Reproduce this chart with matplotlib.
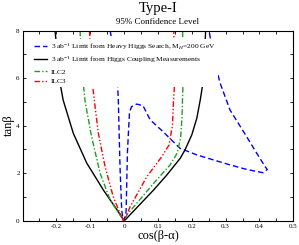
import matplotlib
matplotlib.use("Agg")
from matplotlib import pyplot as plt
from matplotlib.ticker import FixedLocator, MultipleLocator

plt.rcParams['font.family'] = ['Liberation Serif', 'DejaVu Serif']
plt.rcParams['mathtext.fontset'] = 'custom'
plt.rcParams['mathtext.rm'] = 'Liberation Serif'
plt.rcParams['mathtext.it'] = 'Liberation Serif:italic'

# heavy Higgs search limit (blue dashed)
heavy_x = [-0.041, -0.027, -0.019, -0.017, -0.012, -0.007, -0.003, 0.000, 0.006, 0.010,
           0.016, 0.022, 0.037, 0.056, 0.077, 0.115, 0.165, 0.215, 0.264, 0.313,
           0.362, 0.411, 0.423, 0.417, 0.392, 0.362, 0.313, 0.284, 0.266, 0.251]
heavy_y = [8.0, 6.77, 5.71, 5.08, 2.27, 0.46, 0.03, 0.02, 0.38, 2.91,
           4.55, 4.80, 4.91, 4.84, 4.25, 3.75, 3.05, 2.77, 2.56, 2.35,
           2.16, 2.02, 2.16, 2.27, 2.84, 3.54, 4.66, 5.78, 6.77, 8.0]

# Higgs coupling measurements (black)
coup_x = [-0.204, -0.195, -0.188, -0.180, -0.150, -0.110, -0.061, -0.017, -0.001,
          0.003, 0.087, 0.126, 0.166, 0.180, 0.200, 0.215, 0.225, 0.232, 0.237, 0.241]
coup_y = [8.0, 6.77, 5.71, 5.08, 3.68, 2.42, 1.29, 0.38, 0.03,
          0.03, 1.29, 1.92, 2.63, 2.98, 3.61, 4.32, 5.08, 5.71, 6.77, 8.0]

# ILC2 (green dash-dot)
ilc2_x = [-0.130, -0.126, -0.120, -0.115, -0.096, -0.071, -0.041, -0.012, -0.002,
          0.001, 0.008, 0.087, 0.136, 0.157, 0.167, 0.171, 0.174, 0.173]
ilc2_y = [8.0, 6.77, 5.71, 5.01, 3.54, 2.01, 0.87, 0.24, 0.03,
          0.03, 0.24, 1.57, 2.35, 2.85, 3.48, 4.32, 5.71, 8.0]

# ILC3 (red dash-dot-dot)
ilc3_x = [-0.102, -0.098, -0.093, -0.088, -0.076, -0.056, -0.032, -0.012, -0.002,
          0.001, 0.018, 0.067, 0.111, 0.133, 0.143, 0.146, 0.149, 0.147]
ilc3_y = [8.0, 6.77, 5.71, 5.08, 3.68, 2.27, 1.01, 0.31, 0.03,
          0.03, 0.59, 1.85, 2.69, 3.19, 4.03, 5.03, 5.71, 8.0]

x_ticks = [-0.2, -0.1, 0, 0.1, 0.2, 0.3, 0.4, 0.5]
x_labels = ['-0.2', '-0.1', '0', '0.1', '0.2', '0.3', '0.4', '0.5']
y_ticks = [0, 2, 4, 6, 8]

fig = plt.figure(figsize=(2.99, 2.45), dpi=100)
ax = fig.add_axes([0.0753, 0.099, 0.9057, 0.776])

ax.plot(heavy_x, heavy_y, color='#0000ff', lw=1.0, dashes=(4, 2.2),
        label='3 ab$^{-1}$ Limit from Heavy Higgs Search, M$_{H}$=200 GeV')
ax.plot(coup_x, coup_y, color='black', lw=1.0,
        label='3 ab$^{-1}$ Limit from Higgs Coupling Measurements')
ax.plot(ilc2_x, ilc2_y, color='#1f9e1f', lw=1.0, dashes=(4, 1.5, 1, 1.5),
        label='ILC2')
ax.plot(ilc3_x, ilc3_y, color='#ff0000', lw=1.0, dashes=(4, 1.5, 1, 1.5, 1, 1.5),
        label='ILC3')

ax.set_xlim(-0.3, 0.5)
ax.set_ylim(0, 8)
ax.xaxis.set_major_locator(FixedLocator(x_ticks))
ax.set_xticklabels(x_labels)
ax.xaxis.set_minor_locator(MultipleLocator(0.05))
ax.set_yticks(y_ticks)
ax.yaxis.set_minor_locator(MultipleLocator(1))
ax.tick_params(which='both', direction='in', top=True, right=True,
               length=2.5, width=0.6, labelsize=5, pad=2)
for s in ax.spines.values():
    s.set_linewidth(0.8)

ax.set_xlabel('cos(β-α)', fontsize=9, labelpad=1)
ax.set_ylabel('tanβ', fontsize=9, labelpad=1)

leg = ax.legend(loc='upper left', bbox_to_anchor=(0.02, 0.975), fontsize=5.4,
                frameon=True, facecolor='white', edgecolor='none', framealpha=1,
                fancybox=False, handlelength=1.7, handletextpad=0.6,
                labelspacing=0.45, borderpad=0.3)

fig.text(0.528, 0.965, 'Type-I', ha='center', va='center', fontsize=10.5)
fig.text(0.528, 0.912, '95% Confidence Level', ha='center', va='center', fontsize=6.5)

plt.savefig('out.png', dpi=100)
